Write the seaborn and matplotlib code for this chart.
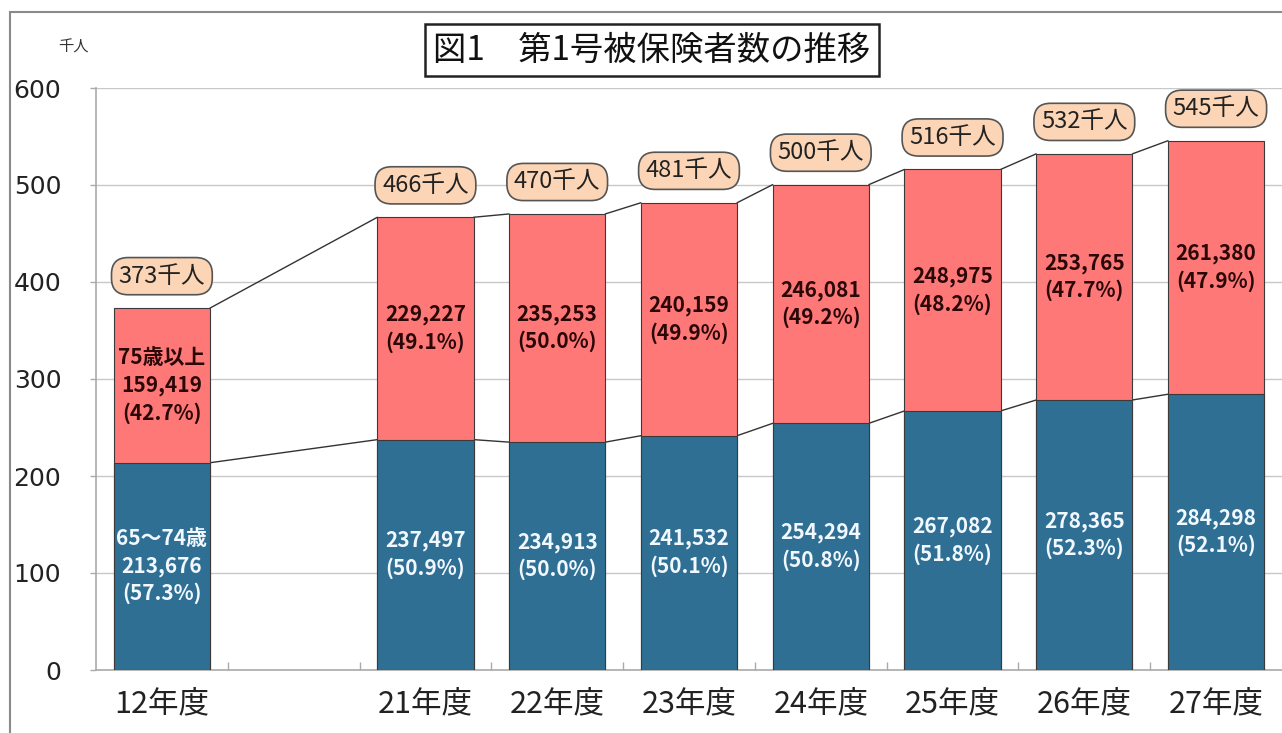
import matplotlib
matplotlib.use("Agg")
import matplotlib.pyplot as plt
import seaborn as sns
import pandas as pd
from matplotlib.patches import Rectangle

# ---- data ----
categories = ["12年度", "21年度", "22年度", "23年度", "24年度", "25年度", "26年度", "27年度"]
young_old = [213676, 237497, 234913, 241532, 254294, 267082, 278365, 284298]   # 65~74歳
old_old = [159419, 229227, 235253, 240159, 246081, 248975, 253765, 261380]     # 75歳以上
young_pct = [57.3, 50.9, 50.0, 50.1, 50.8, 51.8, 52.3, 52.1]
old_pct = [42.7, 49.1, 50.0, 49.9, 49.2, 48.2, 47.7, 47.9]
total_labels = [373, 466, 470, 481, 500, 516, 532, 545]
y_ticks = [0, 100, 200, 300, 400, 500, 600]

# ---- styling ----
sns.set_theme(style="white")
plt.rcParams["font.family"] = ["Noto Sans CJK JP", "DejaVu Sans"]

BLUE = "#2E6F93"
PINK = "#FF7878"
BOX = "#FBD5B5"
EDGE = "#3a3a3a"
BAR_W = 0.73

df = pd.DataFrame({
    "year": categories,
    "young": [v / 1000 for v in young_old],
    "old": [v / 1000 for v in old_old],
})
df["total"] = df["young"] + df["old"]

order = [categories[0], " "] + categories[1:]

fig = plt.figure(figsize=(12.82, 7.33), dpi=100)
ax = fig.add_axes([96 / 1282, 1 - 670 / 733, (1282 - 96) / 1282, (670 - 88) / 733])

sns.barplot(data=df, x="year", y="total", order=order, color=PINK, width=BAR_W,
            edgecolor=EDGE, linewidth=0.8, saturation=1, ax=ax, zorder=3)
sns.barplot(data=df, x="year", y="young", order=order, color=BLUE, width=BAR_W,
            edgecolor=EDGE, linewidth=0.8, saturation=1, ax=ax, zorder=3)

pos = {c: order.index(c) for c in categories}

# series lines between bars
for i in range(len(categories) - 1):
    x0 = pos[categories[i]] + BAR_W / 2
    x1 = pos[categories[i + 1]] - BAR_W / 2
    for col in ("young", "total"):
        ax.plot([x0, x1], [df[col][i], df[col][i + 1]], color="#333333", lw=1, zorder=2)

# labels
for i, c in enumerate(categories):
    x = pos[c]
    y_mid = df["young"][i] / 2
    o_mid = df["young"][i] + df["old"][i] / 2
    if i == 0:
        btxt = f"65～74歳\n{young_old[i]:,}\n({young_pct[i]:.1f}%)"
        otxt = f"75歳以上\n{old_old[i]:,}\n({old_pct[i]:.1f}%)"
    else:
        btxt = f"{young_old[i]:,}\n({young_pct[i]:.1f}%)"
        otxt = f"{old_old[i]:,}\n({old_pct[i]:.1f}%)"
    ax.text(x, y_mid, btxt, ha="center", va="center", color="#F2F8FF",
            fontsize=15, fontweight="bold", linespacing=1.35, zorder=5)
    ax.text(x, o_mid, otxt, ha="center", va="center", color="#2a0808",
            fontsize=15, fontweight="bold", linespacing=1.35, zorder=5)
    ax.annotate(f"{total_labels[i]}千人", (x, df["total"][i]), xytext=(0, 23),
                textcoords="offset points", ha="center", va="center", fontsize=17,
                color="#222222", zorder=6,
                bbox=dict(boxstyle="round,pad=0.3,rounding_size=0.7", fc=BOX,
                          ec="#555555", lw=1.2))

# axes styling
ax.set_ylim(0, 600)
ax.set_xlim(-0.5, len(order) - 0.5)
ax.set_yticks(y_ticks)
ax.set_yticklabels([str(t) for t in y_ticks], fontsize=18, color="#222222",
                   family="DejaVu Sans")
ax.set_xticks(range(len(order)))
ax.set_xticklabels(order, fontsize=22, color="#222222")
ax.set_xlabel("")
ax.set_ylabel("")
ax.yaxis.grid(True, color="#c8c8c8", lw=1)
ax.set_axisbelow(True)
ax.tick_params(axis="x", length=0, pad=13)
ax.tick_params(axis="y", length=4, width=1, color="#aaaaaa", direction="out", pad=21, left=True)
ax.set_xticks([k + 0.5 for k in range(len(order) - 1)], minor=True)
ax.tick_params(axis="x", which="minor", length=6, direction="in", color="#aaaaaa", bottom=True)
for s in ("top", "right"):
    ax.spines[s].set_visible(False)
for s in ("left", "bottom"):
    ax.spines[s].set_color("#aaaaaa")
    ax.spines[s].set_linewidth(1.2)

# unit label and title
fig.text(73 / 1282, 1 - 47 / 733, "千人", fontsize=11, ha="center", va="center", color="#333333")
fig.text(652 / 1282, 1 - 50 / 733, "図1　第1号被保険者数の推移", fontsize=24, ha="center",
         va="center", color="#111111",
         bbox=dict(boxstyle="square,pad=0.25", fc="white", ec="#222222", lw=1.8))

# outer frame
fig.add_artist(Rectangle((10 / 1282, -0.05), 1.0, 1 - 12 / 733 + 0.05,
                         transform=fig.transFigure, fill=False, ec="#8a8a8a", lw=1.5))

fig.savefig("out.png", dpi=100)
